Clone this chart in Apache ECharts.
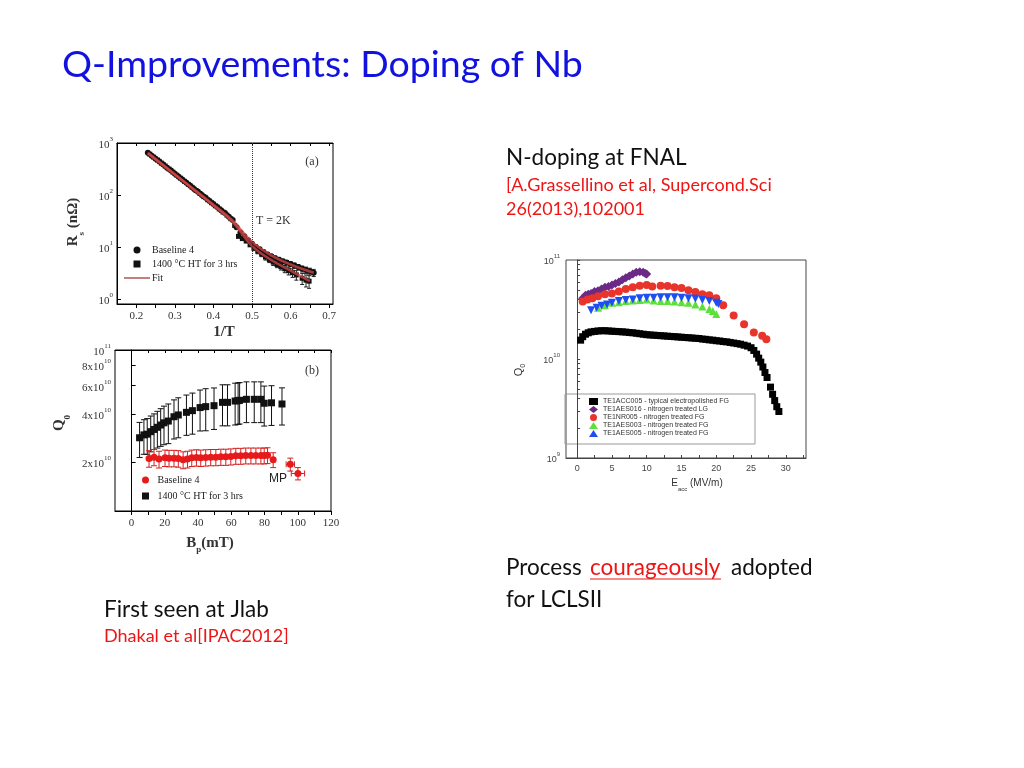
<!DOCTYPE html>
<html><head><meta charset="utf-8">
<script src="https://cdn.jsdelivr.net/npm/echarts@6/dist/echarts.min.js"></script>
<style>html,body{margin:0;padding:0;background:#fff}#c{width:1024px;height:768px}</style>
</head><body><div id="c"></div>
<script>
// ---------- Panel (a): Rs vs 1/T ----------
const aBaseline = [[0.23,650],[0.24,570],[0.25,500],[0.26,440],[0.27,385],[0.28,335],[0.29,295],[0.30,255],[0.31,225],[0.32,197],[0.33,172],[0.34,150],[0.35,131],[0.36,115],[0.37,100],[0.38,88],[0.39,77],[0.40,67],[0.41,59],[0.42,51],[0.43,45],[0.44,38],[0.45,33],[0.46,24],[0.47,19],[0.48,16],[0.49,13.5],[0.50,11.5],[0.51,10],[0.52,9],[0.53,8],[0.54,7.2],[0.55,6.6],[0.56,6.1],[0.57,5.7],[0.58,5.3],[0.59,5.0],[0.60,4.7],[0.61,4.4],[0.62,4.1],[0.63,3.8],[0.64,3.6],[0.65,3.4],[0.66,3.2]];
const aBaselineErr = [0,0,0,0,0,0,0,0,0,0,0,0,0,0,0,0,0,0,0,0,0,0,0,0,0,0,0,0,0.9,0.8,0.7,0.7,0.6,0.6,0.6,0.5,0.5,0.5,0.5,0.5,0.5,0.5,0.5,0.5];
const aHT = [[0.235,610],[0.245,535],[0.255,470],[0.265,410],[0.275,360],[0.285,315],[0.295,275],[0.305,240],[0.315,210],[0.325,183],[0.335,160],[0.345,140],[0.355,122],[0.365,107],[0.375,93],[0.385,81],[0.395,71],[0.405,62],[0.415,54],[0.425,47],[0.435,41],[0.445,35],[0.455,26],[0.465,16],[0.475,14.5],[0.485,13],[0.495,11],[0.505,9.5],[0.515,8.3],[0.525,7.3],[0.535,6.4],[0.545,5.7],[0.555,5.1],[0.565,4.6],[0.575,4.2],[0.585,3.8],[0.595,3.5],[0.605,3.2],[0.615,2.9],[0.63,2.5],[0.64,2.3],[0.648,2.2]];
const aHTErr = [0,0,0,0,0,0,0,0,0,0,0,0,0,0,0,0,0,0,0,0,0,0,0,0,0,0,0,1.0,0.9,0.8,0.8,0.7,0.7,0.6,0.6,0.6,0.6,0.6,0.6,0.6,0.6,0.6];
const aFitUpper = [[0.23,650],[0.30,250],[0.35,128],[0.40,65],[0.45,32],[0.50,12.5],[0.55,6.9],[0.60,4.6],[0.66,3.2]];
const aFitLower = [[0.23,630],[0.30,245],[0.35,125],[0.40,63],[0.45,30],[0.50,10.5],[0.55,5.6],[0.60,3.5],[0.65,2.2]];
const aXLabels = [0.2,0.3,0.4,0.5,0.6,0.7];
const aXTicks = [0.2,0.25,0.3,0.35,0.4,0.45,0.5,0.55,0.6,0.65,0.7];
const aYLabels = [1,10,100,1000];

// ---------- Panel (b): Q0 vs Bp ----------
const E10 = 1e10;
const bHT = [[4.8,2.85],[7.4,2.97],[9.4,3.0],[11.5,3.11],[13.5,3.21],[15.5,3.31],[17.5,3.42],[19.5,3.53],[22.1,3.62],[25.5,3.85],[28.1,3.95],[33,4.1],[36.6,4.2],[41.2,4.39],[44.6,4.45],[49.6,4.51],[54.7,4.73],[57.7,4.73],[62.3,4.82],[64.1,4.85],[65,4.87],[69.1,4.94],[73.8,4.94],[77.8,4.94],[79.8,4.67],[84.2,4.7],[90.5,4.62]];
const bHTErr = [0.7,0.72,0.75,0.78,0.8,0.85,0.9,0.95,1.0,1.05,1.1,1.15,1.2,1.25,1.3,1.3,1.35,1.35,1.4,1.4,1.4,1.4,1.4,1.4,1.3,1.3,1.2];
const bBaseline = [[10.5,2.12],[13.5,2.16],[16.5,2.1],[20.1,2.14],[22.5,2.13],[25.5,2.13],[28.1,2.12],[31,2.08],[33.6,2.1],[36.2,2.14],[39,2.15],[41.6,2.14],[44.6,2.15],[47.6,2.16],[50.7,2.16],[53.7,2.17],[56.7,2.17],[59.7,2.18],[62.7,2.2],[65.7,2.2],[68.7,2.21],[71.8,2.21],[74.8,2.21],[77.8,2.21],[79.8,2.21],[81.8,2.22],[85.2,2.08],[95.5,1.95],[100.1,1.71]];
const bBaselineErr = [0.25,0.25,0.25,0.25,0.25,0.25,0.25,0.25,0.25,0.25,0.25,0.25,0.25,0.25,0.25,0.25,0.25,0.25,0.25,0.25,0.25,0.25,0.25,0.25,0.25,0.25,0.22,0.18,0.15];
const bBaselineXErr = [0,0,0,0,0,0,0,0,0,0,0,0,0,0,0,0,0,0,0,0,0,0,0,0,0,0,0,2.5,4];
const bXLabels = [0,20,40,60,80,100,120];
const bXTicks = [0,10,20,30,40,50,60,70,80,90,100,110,120];
const bYLabels = [2e10,4e10,6e10,8e10,1e11];

// ---------- Panel (c): Q0 vs Eacc (FNAL) ----------
const cACC005 = [[0.5,1.55],[0.8,1.68],[1.2,1.78],[1.6,1.84],[2.0,1.88],[2.5,1.9],[3,1.92],[3.5,1.93],[4,1.93],[4.5,1.92],[5,1.91],[5.5,1.9],[6,1.89],[6.5,1.88],[7,1.87],[7.5,1.85],[8,1.84],[8.5,1.82],[9,1.8],[9.5,1.78],[10,1.76],[10.5,1.75],[11,1.74],[11.5,1.73],[12,1.72],[12.5,1.71],[13,1.7],[13.5,1.69],[14,1.68],[14.5,1.67],[15,1.66],[15.5,1.65],[16,1.64],[16.5,1.63],[17,1.62],[17.5,1.61],[18,1.59],[18.5,1.58],[19,1.56],[19.5,1.55],[20,1.53],[20.5,1.52],[21,1.5],[21.5,1.49],[22,1.47],[22.5,1.45],[23,1.43],[23.5,1.41],[24,1.38],[24.5,1.35],[25,1.3],[25.4,1.22],[25.8,1.12],[26.1,1.02],[26.4,0.93],[26.7,0.83],[27,0.73],[27.3,0.65],[27.8,0.52],[28.1,0.44],[28.4,0.38],[28.7,0.33],[29,0.295]];
const cAES016 = [[0.8,4.1],[1.2,4.4],[1.6,4.5],[2,4.6],[2.5,4.8],[3,4.9],[3.5,5.1],[4,5.3],[4.5,5.4],[5,5.6],[5.5,5.8],[6,6.0],[6.5,6.3],[7,6.6],[7.5,6.9],[8,7.2],[8.5,7.5],[9,7.6],[9.5,7.5],[9.8,7.3],[10,7.2]];
const cNR005 = [[0.8,3.8],[1.5,4.0],[2.2,4.1],[3,4.3],[4,4.5],[5,4.6],[6,4.8],[7,5.1],[8,5.3],[9,5.5],[10,5.6],[10.8,5.4],[12,5.5],[13,5.45],[14,5.3],[15,5.2],[16,4.95],[17,4.75],[18,4.5],[19,4.4],[20,4.1],[21,3.5],[22.5,2.75],[24,2.25],[25.4,1.85],[26.6,1.72],[27.2,1.58]];
const cAES003 = [[3,3.3],[4,3.5],[5,3.7],[6,3.75],[7,3.85],[8,3.9],[9,3.95],[10,4.0],[11,3.9],[12,3.85],[13,3.85],[14,3.8],[15,3.75],[16,3.7],[17,3.55],[18,3.4],[19,3.2],[19.5,3.05],[20,2.85]];
const cAES005 = [[2,3.1],[2.8,3.3],[3.5,3.45],[4.3,3.55],[5,3.7],[6,3.85],[7,3.95],[8,4.0],[9,4.1],[10,4.15],[11,4.15],[12,4.2],[13,4.2],[14,4.2],[15,4.15],[16,4.1],[17,4.05],[18,3.95],[19,3.85],[20,3.7],[20.3,3.6]];
const cNames = ['TE1ACC005 - typical electropolished FG','TE1AES016 - nitrogen treated LG','TE1NR005 - nitrogen treated FG','TE1AES003 - nitrogen treated FG','TE1AES005 - nitrogen treated FG'];
const cXLabels = [0,5,10,15,20,25,30];
const cXTicks = [0,2.5,5,7.5,10,12.5,15,17.5,20,22.5,25,27.5,30,32.5];
const cYLabels = [1e9,1e10,1e11];
const cYTicks = [1e9,2e9,3e9,4e9,5e9,6e9,7e9,8e9,9e9,1e10,2e10,3e10,4e10,5e10,6e10,7e10,8e10,9e10,1e11];

// ---------- helpers ----------
const SERIF = "'Liberation Serif','Times New Roman',serif";
const SANS = "'Liberation Sans',Arial,sans-serif";
const SLIDE = "Lato,'Open Sans',sans-serif";
const SQUARE = 'path://M0,0H10V10H0Z';
const LINE_ICON = 'path://M0,0H40V2H0Z';
const scale10 = arr => arr.map(p => [p[0], p[1] * E10]);

function supRich(size, supSize, family, color) {
  return {
    b: {fontSize: size, fontFamily: family, color: color, verticalAlign: 'bottom', lineHeight: size + 4},
    s: {fontSize: supSize, fontFamily: family, color: color, verticalAlign: 'top', lineHeight: size + 4}
  };
}

function errBars(xi, yi, pts, yerr, xerr, color, cap) {
  const data = pts.map((p, i) => [p[0], p[1], yerr[i], xerr ? xerr[i] : 0]).filter(d => d[2] > 0 || d[3] > 0);
  return {
    type: 'custom', xAxisIndex: xi, yAxisIndex: yi, silent: true, z: 1,
    encode: {x: 0, y: 1},
    data: data,
    renderItem: function (params, api) {
      const x = api.value(0), y = api.value(1), e = api.value(2), xe = api.value(3);
      const st = {stroke: color, lineWidth: 1};
      const ch = [];
      if (e > 0) {
        const p1 = api.coord([x, y - e]), p2 = api.coord([x, y + e]);
        ch.push({type: 'line', shape: {x1: p1[0], y1: p1[1], x2: p2[0], y2: p2[1]}, style: st});
        ch.push({type: 'line', shape: {x1: p1[0] - cap, y1: p1[1], x2: p1[0] + cap, y2: p1[1]}, style: st});
        ch.push({type: 'line', shape: {x1: p2[0] - cap, y1: p2[1], x2: p2[0] + cap, y2: p2[1]}, style: st});
      }
      if (xe > 0) {
        const q1 = api.coord([x - xe, y]), q2 = api.coord([x + xe, y]);
        ch.push({type: 'line', shape: {x1: q1[0], y1: q1[1], x2: q2[0], y2: q2[1]}, style: st});
        ch.push({type: 'line', shape: {x1: q1[0], y1: q1[1] - cap, x2: q1[0], y2: q1[1] + cap}, style: st});
        ch.push({type: 'line', shape: {x1: q2[0], y1: q2[1] - cap, x2: q2[0], y2: q2[1] + cap}, style: st});
      }
      return {type: 'group', children: ch};
    }
  };
}

const axisLineBlack = {show: true, lineStyle: {color: '#000', width: 1}};
const serifLabel = {fontFamily: SERIF, fontSize: 11, color: '#333'};

const chart = echarts.init(document.getElementById('c'), null, {renderer: 'canvas', width: 1024, height: 768});

const option = {
  backgroundColor: '#fff',
  animation: false,
  grid: [
    {left: 117, top: 143, width: 216, height: 161, show: true, borderColor: '#000', borderWidth: 1, backgroundColor: 'transparent'},
    {left: 115, top: 350, width: 216, height: 161, show: true, borderColor: '#000', borderWidth: 1, backgroundColor: 'transparent'},
    {left: 566, top: 260, width: 240, height: 198, show: true, borderColor: '#444', borderWidth: 1, backgroundColor: 'transparent'}
  ],
  xAxis: [
    {gridIndex: 0, type: 'value', min: 0.15, max: 0.71, axisLine: axisLineBlack, splitLine: {show: false},
      axisTick: {customValues: aXTicks, length: 4, lineStyle: {color: '#000'}},
      axisLabel: Object.assign({customValues: aXLabels, formatter: v => v.toFixed(1), margin: 7}, serifLabel)},
    {gridIndex: 1, type: 'value', min: -10, max: 120, axisLine: axisLineBlack, splitLine: {show: false},
      axisTick: {customValues: bXTicks, length: 4, lineStyle: {color: '#000'}},
      axisLabel: Object.assign({customValues: bXLabels, margin: 7}, serifLabel)},
    {gridIndex: 2, type: 'value', min: -1.6, max: 32.9, axisLine: {show: true, lineStyle: {color: '#444'}}, splitLine: {show: false},
      axisTick: {customValues: cXTicks, inside: true, length: 3, lineStyle: {color: '#444'}},
      axisLabel: {customValues: cXLabels, fontFamily: SANS, fontSize: 9, color: '#444', margin: 6}},
    {gridIndex: 0, type: 'value', position: 'top', min: 0.15, max: 0.71, axisLine: axisLineBlack, splitLine: {show: false},
      axisTick: {customValues: aXTicks, inside: true, length: 3, lineStyle: {color: '#000'}}, axisLabel: {show: false}},
    {gridIndex: 1, type: 'value', position: 'top', min: -10, max: 120, axisLine: axisLineBlack, splitLine: {show: false},
      axisTick: {customValues: bXTicks, inside: true, length: 3, lineStyle: {color: '#000'}}, axisLabel: {show: false}}
  ],
  yAxis: [
    {gridIndex: 0, type: 'log', logBase: 10, min: 0.8, max: 1000, axisLine: axisLineBlack, splitLine: {show: false},
      axisTick: {customValues: aYLabels, inside: true, length: 4, lineStyle: {color: '#000'}},
      axisLabel: {customValues: aYLabels, margin: 4,
        formatter: v => '{b|10}{s|' + Math.round(Math.log10(v)) + '}', rich: supRich(11, 7, SERIF, '#333')}},
    {gridIndex: 1, type: 'log', logBase: 10, min: 1e10, max: 1e11, axisLine: axisLineBlack, splitLine: {show: false},
      axisTick: {customValues: bYLabels, inside: true, length: 4, lineStyle: {color: '#000'}},
      axisLabel: {customValues: bYLabels, margin: 4,
        formatter: v => v > 9.9e10 ? '{b|10}{s|11}' : '{b|' + Math.round(v / 1e10) + 'x10}{s|10}', rich: supRich(11, 7, SERIF, '#333')}},
    {gridIndex: 2, type: 'log', logBase: 10, min: 1e9, max: 1e11, axisLine: {show: true, lineStyle: {color: '#444'}}, splitLine: {show: false},
      axisTick: {customValues: cYTicks, inside: true, length: 3, lineStyle: {color: '#444'}},
      axisLabel: {customValues: cYLabels, margin: 6,
        formatter: v => '{b|10}{s|' + Math.round(Math.log10(v)) + '}', rich: supRich(9, 6, SANS, '#444')}}
  ],
  legend: [
    {left: 124, top: 245, orient: 'vertical', padding: 0, itemGap: 4, itemWidth: 26, itemHeight: 7, symbolKeepAspect: true,
      textStyle: {fontFamily: SERIF, fontSize: 10, color: '#222', padding: [0, 0, 0, -3]},
      data: [{name: 'Baseline 4', icon: 'circle', itemStyle: {color: '#111'}},
             {name: '1400 °C HT for 3 hrs', icon: SQUARE, itemStyle: {color: '#111'}},
             {name: 'Fit', icon: LINE_ICON, itemStyle: {color: '#a83a3a'}}]},
    {left: 142, top: 475, orient: 'vertical', padding: 0, itemGap: 6, itemWidth: 14, itemHeight: 7, symbolKeepAspect: true,
      textStyle: {fontFamily: SERIF, fontSize: 10, color: '#222'},
      data: [{name: 'Baseline 4 ', icon: 'circle', itemStyle: {color: '#e8191a'}},
             {name: '1400 °C HT for 3 hrs ', icon: SQUARE, itemStyle: {color: '#111'}}]},
    {left: 589, top: 398, orient: 'vertical', padding: 0, itemGap: 1, itemWidth: 9, itemHeight: 7,
      textStyle: {fontFamily: SANS, fontSize: 7, color: '#333'},
      data: cNames}
  ],
  series: [
    // panel (a)
    errBars(0, 0, aBaseline, aBaselineErr, null, '#222', 2),
    errBars(0, 0, aHT, aHTErr, null, '#222', 2),
    {name: 'Fit', type: 'line', xAxisIndex: 0, yAxisIndex: 0, data: aFitUpper, smooth: 0.4, symbol: 'none',
      lineStyle: {color: 'rgba(215,70,70,0.75)', width: 2.5}, z: 3},
    {name: 'Fit', type: 'line', xAxisIndex: 0, yAxisIndex: 0, data: aFitLower, smooth: 0.4, symbol: 'none',
      lineStyle: {color: 'rgba(215,70,70,0.75)', width: 2.5}, z: 3},
    {name: 'Baseline 4', type: 'scatter', xAxisIndex: 0, yAxisIndex: 0, data: aBaseline, symbol: 'circle', symbolSize: 6,
      itemStyle: {color: '#111', opacity: 1}, z: 2,
      markLine: {silent: true, symbol: 'none', label: {show: false}, lineStyle: {type: 'dotted', color: '#333', width: 1},
        data: [{xAxis: 0.5}]}},
    {name: '1400 °C HT for 3 hrs', type: 'scatter', xAxisIndex: 0, yAxisIndex: 0, data: aHT, symbol: 'rect', symbolSize: 5,
      itemStyle: {color: '#111', opacity: 1}, z: 2},
    // panel (b)
    errBars(1, 1, scale10(bHT), bHTErr.map(e => e * E10), null, '#111', 3),
    errBars(1, 1, scale10(bBaseline), bBaselineErr.map(e => e * E10), bBaselineXErr, '#d42020', 3),
    {name: '1400 °C HT for 3 hrs ', type: 'scatter', xAxisIndex: 1, yAxisIndex: 1, data: scale10(bHT), symbol: 'rect', symbolSize: 7,
      itemStyle: {color: '#111', opacity: 1}, z: 2},
    {name: 'Baseline 4 ', type: 'scatter', xAxisIndex: 1, yAxisIndex: 1, data: scale10(bBaseline), symbol: 'circle', symbolSize: 7,
      itemStyle: {color: '#e8191a', opacity: 1}, z: 2},
    // panel (c)
    {name: cNames[0], type: 'scatter', xAxisIndex: 2, yAxisIndex: 2, data: scale10(cACC005), symbol: 'rect', symbolSize: 7,
      itemStyle: {color: '#000', opacity: 1}},
    {name: cNames[1], type: 'scatter', xAxisIndex: 2, yAxisIndex: 2, data: scale10(cAES016), symbol: 'diamond', symbolSize: 9,
      itemStyle: {color: '#6a2a86', opacity: 1}},
    {name: cNames[2], type: 'scatter', xAxisIndex: 2, yAxisIndex: 2, data: scale10(cNR005), symbol: 'circle', symbolSize: 8,
      itemStyle: {color: '#e8342a', opacity: 1}},
    {name: cNames[3], type: 'scatter', xAxisIndex: 2, yAxisIndex: 2, data: scale10(cAES003), symbol: 'triangle', symbolSize: 8,
      itemStyle: {color: '#5ee03c', opacity: 1}},
    {name: cNames[4], type: 'scatter', xAxisIndex: 2, yAxisIndex: 2, data: scale10(cAES005), symbol: 'triangle', symbolRotate: 180, symbolSize: 8,
      itemStyle: {color: '#1f4ef0', opacity: 1}}
  ],
  graphic: [
    // slide texts
    {type: 'text', x: 62, y: 65, style: {text: 'Q-Improvements: Doping of Nb', fontFamily: SLIDE, fontSize: 37.5, fill: '#1212e0', align: 'left', verticalAlign: 'middle'}},
    {type: 'text', x: 506, y: 158, style: {text: 'N-doping at FNAL', fontFamily: SLIDE, fontSize: 22.5, fill: '#111', align: 'left', verticalAlign: 'middle'}},
    {type: 'text', x: 506, y: 185, style: {text: '[A.Grassellino et al, Supercond.Sci', fontFamily: SLIDE, fontSize: 18, fill: '#ee1515', align: 'left', verticalAlign: 'middle'}},
    {type: 'text', x: 506, y: 209, style: {text: '26(2013),102001', fontFamily: SLIDE, fontSize: 18, fill: '#ee1515', align: 'left', verticalAlign: 'middle'}},
    {type: 'text', x: 506, y: 568, style: {text: 'Process', fontFamily: SLIDE, fontSize: 22.5, fill: '#111', align: 'left', verticalAlign: 'middle'}},
    {type: 'text', x: 590, y: 568, style: {text: 'courageously', fontFamily: SLIDE, fontSize: 22.5, fill: '#ee1515', align: 'left', verticalAlign: 'middle'}},
    {type: 'line', shape: {x1: 590, y1: 579, x2: 721, y2: 579}, style: {stroke: '#ee1515', lineWidth: 1.2}},
    {type: 'text', x: 731, y: 568, style: {text: 'adopted', fontFamily: SLIDE, fontSize: 22.5, fill: '#111', align: 'left', verticalAlign: 'middle'}},
    {type: 'text', x: 506, y: 600, style: {text: 'for LCLSII', fontFamily: SLIDE, fontSize: 22.5, fill: '#111', align: 'left', verticalAlign: 'middle'}},
    {type: 'text', x: 104, y: 610, style: {text: 'First seen at Jlab', fontFamily: SLIDE, fontSize: 22.5, fill: '#111', align: 'left', verticalAlign: 'middle'}},
    {type: 'text', x: 104, y: 636, style: {text: 'Dhakal et al[IPAC2012]', fontFamily: SLIDE, fontSize: 18, fill: '#ee1515', align: 'left', verticalAlign: 'middle'}},
    // panel (a) annotations
    {type: 'text', x: 76, y: 222, rotation: Math.PI / 2, style: {text: '{t|R}{u|s}{t| (nΩ)}', align: 'center', verticalAlign: 'middle',
      rich: {t: {fontFamily: SERIF, fontSize: 15, fontWeight: 'bold', fill: '#333', verticalAlign: 'top', lineHeight: 20},
             u: {fontFamily: SERIF, fontSize: 9, fontWeight: 'bold', fill: '#333', verticalAlign: 'bottom', lineHeight: 20}}}},
    {type: 'text', x: 224, y: 332, style: {text: '1/T', fontFamily: SERIF, fontSize: 15, fontWeight: 'bold', fill: '#333', align: 'center', verticalAlign: 'middle'}},
    {type: 'text', x: 312, y: 162, style: {text: '(a)', fontFamily: SERIF, fontSize: 12, fill: '#333', align: 'center', verticalAlign: 'middle'}},
    {type: 'text', x: 256, y: 221, style: {text: 'T = 2K', fontFamily: SERIF, fontSize: 12, fill: '#333', align: 'left', verticalAlign: 'middle'}},
    // panel (b) annotations
    {type: 'text', x: 62, y: 423, rotation: Math.PI / 2, style: {text: '{t|Q}{u|0}', align: 'center', verticalAlign: 'middle',
      rich: {t: {fontFamily: SERIF, fontSize: 15, fontWeight: 'bold', fill: '#333', verticalAlign: 'top', lineHeight: 20},
             u: {fontFamily: SERIF, fontSize: 9, fontWeight: 'bold', fill: '#333', verticalAlign: 'bottom', lineHeight: 20}}}},
    {type: 'text', x: 210, y: 545, style: {text: '{t|B}{u|p}{t|(mT)}', align: 'center', verticalAlign: 'middle',
      rich: {t: {fontFamily: SERIF, fontSize: 15, fontWeight: 'bold', fill: '#333', verticalAlign: 'top', lineHeight: 18},
             u: {fontFamily: SERIF, fontSize: 9, fontWeight: 'bold', fill: '#333', verticalAlign: 'bottom', lineHeight: 18}}}},
    {type: 'text', x: 312, y: 371, style: {text: '(b)', fontFamily: SERIF, fontSize: 12, fill: '#333', align: 'center', verticalAlign: 'middle'}},
    {type: 'text', x: 278, y: 479, style: {text: 'MP', fontFamily: SANS, fontSize: 12, fill: '#222', align: 'center', verticalAlign: 'middle'}},
    // panel (c) annotations
    {type: 'rect', shape: {x: 565, y: 394, width: 190, height: 50}, style: {fill: 'none', stroke: '#999', lineWidth: 1}},
    {type: 'text', x: 520, y: 370, rotation: Math.PI / 2, style: {text: '{t|Q}{u|0}', align: 'center', verticalAlign: 'middle',
      rich: {t: {fontFamily: SANS, fontSize: 11, fill: '#333', verticalAlign: 'top', lineHeight: 14},
             u: {fontFamily: SANS, fontSize: 7, fill: '#333', verticalAlign: 'bottom', lineHeight: 14}}}},
    {type: 'text', x: 697, y: 485, style: {text: '{t|E}{u|acc}{t| (MV/m)}', align: 'center', verticalAlign: 'middle',
      rich: {t: {fontFamily: SANS, fontSize: 10, fill: '#333', verticalAlign: 'top', lineHeight: 14},
             u: {fontFamily: SANS, fontSize: 6, fill: '#333', verticalAlign: 'bottom', lineHeight: 14}}}}
  ]
};
chart.setOption(option);
</script>
</body></html>
